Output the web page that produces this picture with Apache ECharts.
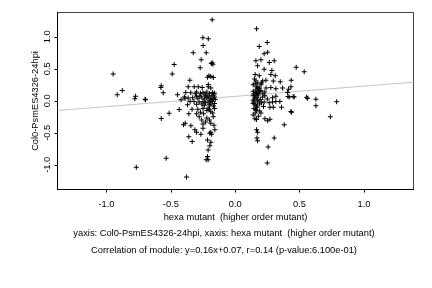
<!DOCTYPE html>
<html>
<head>
<meta charset="utf-8">
<script src="https://cdn.jsdelivr.net/npm/echarts@6/dist/echarts.min.js"></script>
<style>
html,body{margin:0;padding:0;background:#fff;}
#chart{width:432px;height:288px;}
</style>
</head>
<body>
<div id="chart"></div>
<script>
// x values: hexa mutant (higher order mutant)
const hexaMutant = [
 -0.948,-0.916,-0.877,-0.774,-0.779,-0.70,-0.696,-0.768,-0.574,-0.577,-0.559,-0.474,-0.489,-0.448,-0.574,-0.513,-0.435,-0.536,-0.42,
 -0.401,-0.388,-0.378,-0.36,-0.334,-0.344,-0.39,-0.352,-0.365,-0.326,-0.318,-0.384,-0.345,-0.365,-0.35,-0.37,-0.36,-0.335,-0.395,-0.313,-0.30,
 -0.179,-0.251,-0.209,-0.249,-0.225,-0.264,-0.179,-0.173,-0.185,-0.272,-0.204,-0.189,-0.215,-0.17,-0.209,-0.287,-0.256,-0.209,-0.189,
 -0.30,-0.27,-0.25,-0.22,-0.20,-0.175,-0.16,-0.31,-0.235,
 -0.33,-0.29,-0.26,-0.24,-0.22,-0.21,-0.19,-0.18,-0.17,-0.16,-0.155,-0.20,-0.23,-0.275,-0.185,-0.165,-0.30,
 -0.32,-0.28,-0.25,-0.23,-0.21,-0.19,-0.175,-0.16,-0.20,-0.24,-0.17,-0.30,-0.26,
 -0.29,-0.25,-0.22,-0.20,-0.16,-0.30,-0.27,-0.245,-0.19,-0.175,-0.21,
 -0.28,-0.26,-0.22,-0.20,-0.17,-0.19,-0.25,-0.23,-0.165,
 -0.25,-0.266,-0.158,-0.197,-0.183,-0.19,-0.215,-0.189,-0.197,-0.21,-0.215,-0.21,-0.225,
 0.166,0.249,0.187,0.225,0.252,0.161,0.20,0.265,0.303,0.474,0.536,0.174,0.225,0.285,0.155,0.187,0.277,0.311,
 0.161,0.213,0.239,0.296,0.35,0.435,0.15,0.175,0.20,0.14,0.165,0.19,0.174,0.24,0.277,0.316,0.368,0.415,0.433,0.155,0.205,
 0.19,0.407,0.14,0.16,0.175,0.20,0.215,0.145,0.165,0.23,0.18,
 0.161,0.213,0.29,0.316,0.42,0.458,0.5625,0.627,0.14,0.15,0.17,0.18,0.195,0.14,0.175,0.155,0.23,0.25,0.41,0.45,0.555,
 0.174,0.225,0.264,0.29,0.316,0.347,0.14,0.155,0.19,0.165,0.205,0.145,0.788,0.627,0.27,0.296,0.36,0.17,0.22,
 0.155,0.166,0.20,0.19,0.433,0.438,0.153,0.166,0.231,0.252,0.27,0.739,0.14,0.18,0.16,0.145,
 0.381,0.166,0.174,0.169,0.174,0.303,0.256,0.249
];
// y values: Col0-PsmES4326-24hpi
const col0Psm = [
 0.42,0.094,0.16,0.073,0.031,0.026,0.016,-1.036,0.234,0.21,0.125,0.567,0.42,0.094,-0.276,-0.193,-0.135,-0.895,0.016,
 -0.375,-0.349,-1.19,-0.5625,-0.635,-0.39,0.04,0.32,0.22,0.75,0.22,0.13,0.125,0.045,-0.01,-0.06,-0.2,-0.13,0.06,-0.453,-0.49,
 1.266,0.984,0.969,0.865,0.75,0.64,0.595,0.573,0.585,0.516,0.39,0.38,0.37,0.365,0.255,0.22,0.21,0.22,0.20,
 0.14,0.12,0.13,0.14,0.11,0.13,0.12,0.11,0.105,
 0.05,0.04,0.06,0.03,0.05,0.07,0.04,0.08,0.03,0.06,0.02,0.01,0.08,0.075,0.0,0.09,0.07,
 -0.01,-0.02,-0.01,-0.03,-0.02,-0.05,-0.01,-0.04,-0.06,-0.07,-0.08,-0.055,-0.05,
 -0.13,-0.12,-0.15,-0.13,-0.12,-0.20,-0.18,-0.20,-0.17,-0.19,-0.11,
 -0.25,-0.30,-0.27,-0.30,-0.25,-0.35,-0.36,-0.33,-0.38,
 -0.43,-0.52,-0.453,-0.505,-0.52,-0.49,-0.61,-0.645,-0.70,-0.766,-0.87,-0.92,-0.92,
 1.125,0.91,0.85,0.734,0.76,0.625,0.64,0.60,0.625,0.526,0.453,0.547,0.495,0.473,0.41,0.39,0.41,0.39,
 0.31,0.31,0.32,0.31,0.30,0.32,0.34,0.28,0.25,0.25,0.22,0.20,0.20,0.20,0.21,0.19,0.20,0.18,0.22,0.27,0.28,
 0.145,0.13,0.15,0.17,0.12,0.16,0.11,0.11,0.13,0.14,0.185,
 0.06,0.06,0.05,0.07,0.06,0.06,0.04,0.026,0.08,0.03,0.05,0.09,0.02,0.01,0.0,0.09,0.08,0.03,0.067,0.067,0.057,
 -0.02,-0.02,-0.03,-0.02,-0.01,-0.01,-0.04,-0.06,-0.05,-0.08,-0.03,-0.02,-0.016,-0.078,-0.10,-0.10,-0.10,-0.10,-0.09,
 -0.19,-0.15,-0.19,-0.16,-0.167,-0.177,-0.28,-0.29,-0.28,-0.31,-0.286,-0.25,-0.22,-0.24,-0.13,-0.12,
 -0.375,-0.45,-0.49,-0.58,-0.625,-0.58,-0.72,-0.97
];
// regression line endpoints (y = 0.16x + 0.07)
const fitX = [-1.38, 1.385];
const fitY = [-0.151, 0.292];
const xTicks = [-1.0, -0.5, 0.0, 0.5, 1.0];
const yTicks = [-1.0, -0.5, 0.0, 0.5, 1.0];
const xTitle = 'hexa mutant  (higher order mutant)';
const yTitle = 'Col0-PsmES4326-24hpi';
const caption1 = 'yaxis: Col0-PsmES4326-24hpi, xaxis: hexa mutant  (higher order mutant)';
const caption2 = 'Correlation of module: y=0.16x+0.07, r=0.14 (p-value:6.100e-01)';

const points = hexaMutant.map((x, i) => [x, col0Psm[i]]);
const fitLine = fitX.map((x, i) => [x, fitY[i]]);
const FONT = 'Liberation Sans, Arial, sans-serif';
const FS = 9.3;

const chart = echarts.init(document.getElementById('chart'), null, {renderer: 'canvas'});
chart.setOption({
  animation: false,
  backgroundColor: '#fff',
  grid: {left: 57.5, right: 18.5, top: 12.5, bottom: 98.5, show: true, borderColor: '#444', borderWidth: 1},
  xAxis: {
    type: 'value', min: -1.38, max: 1.385,
    name: xTitle, nameLocation: 'middle', nameGap: 19.5,
    nameTextStyle: {fontFamily: FONT, fontSize: FS, color: '#000'},
    axisLine: {show: true, onZero: false, lineStyle: {color: '#000', width: 1}},
    axisTick: {show: true, length: 3, customValues: xTicks, lineStyle: {color: '#000'}},
    axisLabel: {show: true, customValues: xTicks, margin: 10, fontFamily: FONT, fontSize: FS, color: '#000',
      formatter: v => v.toFixed(1)},
    splitLine: {show: false}
  },
  yAxis: {
    type: 'value', min: -1.385, max: 1.38,
    axisLine: {show: true, onZero: false, lineStyle: {color: '#000', width: 1}},
    axisTick: {show: true, length: 3, customValues: yTicks, lineStyle: {color: '#000'}},
    axisLabel: {show: true, customValues: yTicks, rotate: 90, margin: 6, fontFamily: FONT, fontSize: FS, color: '#000',
      formatter: v => v.toFixed(1)},
    splitLine: {show: false}
  },
  graphic: [
    {type: 'text', x: 35, y: 101, rotation: Math.PI / 2, style: {text: yTitle, font: FS + 'px ' + FONT, fill: '#000', align: 'center', verticalAlign: 'middle'}},
    {type: 'text', x: 224, y: 233, style: {text: caption1, font: FS + 'px ' + FONT, fill: '#000', align: 'center', verticalAlign: 'middle'}},
    {type: 'text', x: 224, y: 250.5, style: {text: caption2, font: FS + 'px ' + FONT, fill: '#000', align: 'center', verticalAlign: 'middle'}}
  ],
  series: [
    {type: 'line', data: fitLine, symbol: 'none', lineStyle: {color: '#c4c4c4', width: 1}, z: 1, silent: true},
    {type: 'scatter', data: points, symbol: 'path://M2,0h1v5h-1zM0,2h5v1h-5z', symbolSize: 5,
      itemStyle: {color: '#000', opacity: 1}, z: 2, silent: true}
  ]
});
</script>
</body>
</html>
